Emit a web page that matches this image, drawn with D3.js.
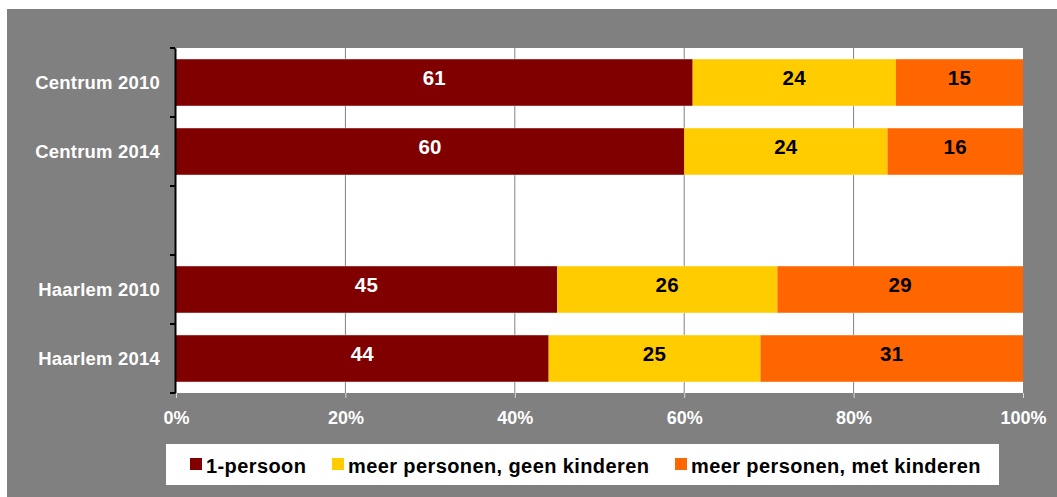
<!DOCTYPE html>
<html><head><meta charset="utf-8">
<script src="https://cdn.jsdelivr.net/npm/d3@7"></script>
<style>body{margin:0;background:#fff}svg{display:block}</style>
</head><body>
<script>
const categories = ["Centrum 2010", "Centrum 2014", "", "Haarlem 2010", "Haarlem 2014"];
const seriesNames = ["1-persoon", "meer personen, geen kinderen", "meer personen, met kinderen"];
const colors = ["#800000", "#FFCC00", "#FF6600"];
const labelColors = ["#fff", "#000", "#000"];
const eenPersoon = [61, 60, null, 45, 44];
const geenKinderen = [24, 24, null, 26, 25];
const metKinderen = [15, 16, null, 29, 31];
const xTicks = [0, 20, 40, 60, 80, 100];

(function () {
const W = 1057, H = 497;
const svg = d3.select("body").append("svg").attr("width", W).attr("height", H);
const font = "'Liberation Sans', Arial, sans-serif";

svg.append("rect").attr("x", 7).attr("y", 9).attr("width", W - 7).attr("height", H - 9).attr("fill", "#808080");

const pl = 176, pr = 1023, pt = 48, pb = 393;
svg.append("rect").attr("x", pl).attr("y", pt).attr("width", pr - pl).attr("height", pb - pt).attr("fill", "#fff");

const x = d3.scaleLinear().domain([0, 100]).range([pl, pr]);
const y = d3.scaleBand().domain(categories.map((c, i) => i)).range([pt, pb]).paddingInner(0.32).paddingOuter(0.16);
const yb = d3.scaleBand().domain(categories.map((c, i) => i)).range([pt, pb]);

// gridlines
svg.append("g").selectAll("line").data(xTicks.filter(t => t > 0 && t < 100)).join("line")
  .attr("x1", d => x(d)).attr("x2", d => x(d)).attr("y1", pt).attr("y2", pb)
  .attr("stroke", "#808080").attr("stroke-width", 1);

const series = [eenPersoon, geenKinderen, metKinderen];
categories.forEach((c, i) => {
  if (eenPersoon[i] == null) return;
  let acc = 0;
  series.forEach((s, k) => {
    const v = s[i];
    const x0 = x(acc), x1 = x(acc + v);
    svg.append("rect").attr("x", x0).attr("y", y(i)).attr("width", x1 - x0).attr("height", y.bandwidth())
      .attr("fill", colors[k]);
    svg.append("text").attr("x", (x0 + x1) / 2).attr("y", y(i) + y.bandwidth() / 2 - 4.5).attr("dy", "0.35em")
      .attr("text-anchor", "middle").attr("font-family", font).attr("font-weight", "bold").attr("font-size", 20.5)
      .attr("letter-spacing", 0.3).attr("fill", labelColors[k]).text(v);
    acc += v;
  });
});
// thin light edge on bars
categories.forEach((c, i) => {
  if (eenPersoon[i] == null) return;
  [y(i), y(i) + y.bandwidth()].forEach(yy => {
    svg.append("line").attr("x1", pl).attr("x2", pr).attr("y1", yy).attr("y2", yy)
      .attr("stroke", "#fff").attr("stroke-opacity", 0.35).attr("stroke-width", 1);
  });
});

// y axis
const yAxis = d3.axisLeft(yb).tickSize(0).tickFormat(i => categories[i]);
const gy = svg.append("g").attr("transform", `translate(${pl - 1},0)`).call(yAxis);
gy.select(".domain").attr("stroke", "#000").attr("stroke-width", 2);
gy.selectAll("text").attr("font-family", font).attr("font-weight", "bold").attr("font-size", 18.5)
  .attr("letter-spacing", 0.2).attr("fill", "#fff").attr("x", -15).attr("dy", "0.35em");
const bounds = d3.range(categories.length + 1).map(i => pt + i * yb.step());
svg.append("g").selectAll("line").data(bounds).join("line")
  .attr("x1", pl - 6).attr("x2", pl - 1).attr("y1", d => d).attr("y2", d => d)
  .attr("stroke", "#000").attr("stroke-width", 2);

// x axis
const xAxis = d3.axisBottom(x).tickValues(xTicks).tickFormat(d => d + "%").tickSize(5).tickPadding(13);
const gx = svg.append("g").attr("transform", `translate(0,${pb})`).call(xAxis);
gx.select(".domain").remove();
gx.selectAll(".tick line").attr("stroke", "#d9d9d9");
gx.selectAll("text").attr("font-family", font).attr("font-weight", "bold").attr("font-size", 18).attr("fill", "#fff");

// legend
const lg = svg.append("g");
lg.append("rect").attr("x", 166).attr("y", 444).attr("width", 833).attr("height", 41).attr("fill", "#fff");
const legX = [190, 332, 675];
seriesNames.forEach((n, k) => {
  lg.append("rect").attr("x", legX[k]).attr("y", 458).attr("width", 12).attr("height", 12).attr("fill", colors[k]);
  lg.append("text").attr("x", legX[k] + 16).attr("y", 473).attr("font-family", font).attr("font-weight", "bold")
    .attr("font-size", 20).attr("letter-spacing", 0.4).attr("fill", "#000").text(n);
});
})();
</script>
</body></html>
